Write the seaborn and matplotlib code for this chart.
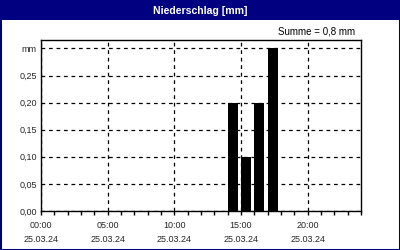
import matplotlib
matplotlib.use("Agg")
import matplotlib.pyplot as plt
import seaborn as sns
import pandas as pd
from matplotlib.patches import Rectangle
from matplotlib.ticker import MultipleLocator, FixedLocator

# ---- data ----
hours = list(range(24))
precip = [0, 0, 0, 0, 0, 0, 0, 0, 0, 0, 0, 0, 0, 0,
          0.20, 0.10, 0.20, 0.30, 0, 0, 0, 0, 0, 0]
xtick_hours = [0, 5, 10, 15, 20]
xtick_labels = ["00:00\n25.03.24", "05:00\n25.03.24", "10:00\n25.03.24",
                "15:00\n25.03.24", "20:00\n25.03.24"]
ytick_values = [0.00, 0.05, 0.10, 0.15, 0.20, 0.25, 0.30]
ytick_labels = ["0,00", "0,05", "0,10", "0,15", "0,20", "0,25", "mm"]
title = "Niederschlag [mm]"
summe = "Summe = 0,8 mm"

sns.set_style("white")
plt.rcParams['font.family'] = ['Liberation Sans', 'DejaVu Sans']
plt.rcParams['font.size'] = 6.5

navy = "#000080"
fig = plt.figure(figsize=(4, 2.5), dpi=100)
fig.patch.set_facecolor("white")
# frame and title bar
fig.patches.append(Rectangle((0, 0), 1, 1, transform=fig.transFigure,
                             facecolor="none", edgecolor=navy, linewidth=2.2, zorder=0))
fig.patches.append(Rectangle((0, 1 - 20 / 250), 1, 20 / 250, transform=fig.transFigure,
                             facecolor=navy, edgecolor="none", zorder=1))
fig.text(0.5, 1 - 10.5 / 250, title, color="white", ha="center", va="center",
         fontsize=7.6, fontweight="bold")
fig.text(355 / 400, 1 - 31 / 250, summe, color="black", ha="right", va="center",
         fontsize=7)

ax = fig.add_axes([41 / 400, 1 - 211 / 250, 320 / 400, 171 / 250])
df = pd.DataFrame({"start": hours, "mm": precip})
df["center"] = df["start"] + 0.375
sns.barplot(data=df, x="center", y="mm", native_scale=True, width=0.75,
            color="black", edgecolor="none", linewidth=0, saturation=1, ax=ax, zorder=3)

ax.set_xlim(0, 24)
ax.set_ylim(0, 0.3155)
ax.xaxis.set_major_locator(FixedLocator(xtick_hours))
ax.set_xticklabels(xtick_labels, linespacing=1.75)
ax.xaxis.set_minor_locator(MultipleLocator(1))
ax.yaxis.set_major_locator(FixedLocator(ytick_values))
ax.set_yticklabels(ytick_labels)
ax.tick_params(axis="x", which="both", direction="out", length=3, width=1,
               color="black", bottom=True, pad=4)
ax.tick_params(axis="y", which="both", length=0, pad=3)
ax.set_xlabel("")
ax.set_ylabel("")
for s in ax.spines.values():
    s.set_color("black")
    s.set_linewidth(1)
ax.grid(True, which="major", color="black", linestyle=(0, (3, 3)), linewidth=0.9, zorder=1)
ax.set_axisbelow(True)

fig.savefig("out.png", dpi=100)
